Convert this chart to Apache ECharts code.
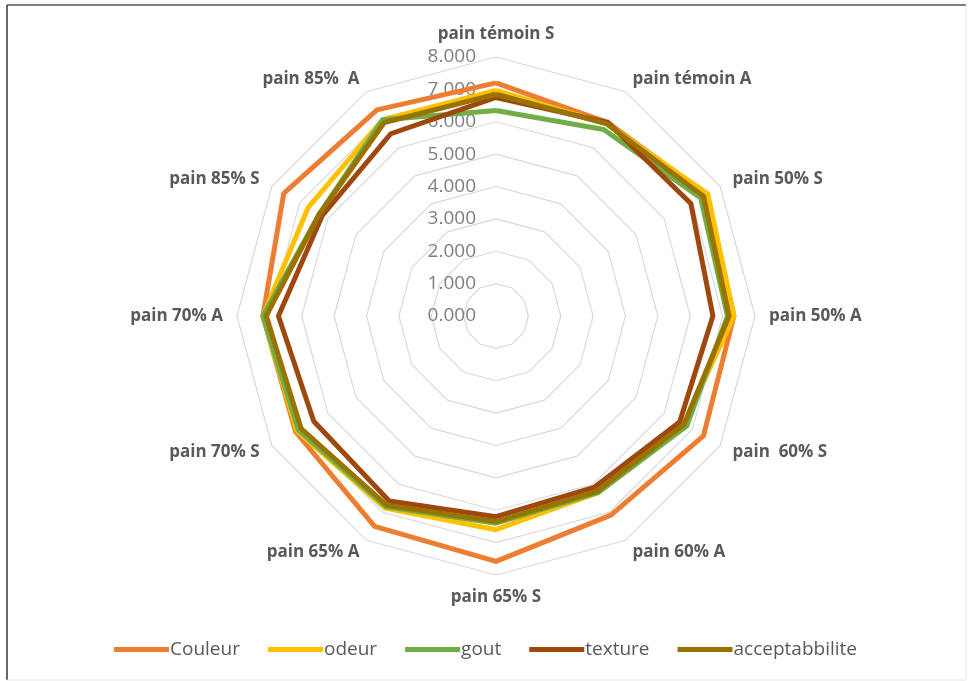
<!DOCTYPE html>
<html>
<head>
<meta charset="utf-8">
<script src="https://cdn.jsdelivr.net/npm/echarts@6/dist/echarts.min.js"></script>
<style>
  html, body { margin: 0; padding: 0; background: #fff; }
  #chart { width: 971px; height: 681px; }
</style>
</head>
<body>
<div id="chart"></div>
<script>
// Bread samples, listed clockwise from the top
const categories = [
  'pain témoin S', 'pain témoin A', 'pain 50% S', 'pain 50% A',
  'pain  60% S', 'pain 60% A', 'pain 65% S', 'pain 65% A',
  'pain 70% S', 'pain 70% A', 'pain 85% S', 'pain 85%  A'
];

// Mean sensory scores per sample
const couleur        = [7.20, 6.90, 7.50, 7.35, 7.40, 7.10, 7.58, 7.50, 7.15, 7.20, 7.57, 7.35];
const odeur          = [6.97, 6.85, 7.55, 7.35, 6.70, 6.30, 6.60, 6.85, 7.10, 7.20, 6.70, 7.00];
const gout           = [6.35, 6.65, 7.30, 7.15, 6.80, 6.30, 6.40, 6.80, 7.05, 7.20, 6.30, 7.00];
const texture        = [6.75, 6.90, 6.95, 6.70, 6.55, 6.10, 6.20, 6.60, 6.50, 6.72, 6.20, 6.50];
const acceptabbilite = [6.85, 6.85, 7.40, 7.20, 6.70, 6.25, 6.35, 6.75, 6.95, 7.10, 6.30, 6.90];

const seriesNames  = ['Couleur', 'odeur', 'gout', 'texture', 'acceptabbilite'];
const seriesValues = [couleur, odeur, gout, texture, acceptabbilite];
const seriesColors = ['#ED7D31', '#FFC000', '#70AD47', '#9E480E', '#997300'];

// Value axis scale
const axisMin = 0;
const axisMax = 8;
const axisStep = 1;

// ECharts lays radar indicators out counter-clockwise, so walk the
// categories as 0, n-1, n-2, ... to get them clockwise on screen.
const order = categories.map((_, i) => (i === 0 ? 0 : categories.length - i));

const indicator = order.map((idx, k) => {
  const ind = { name: categories[idx], min: axisMin, max: axisMax };
  if (k === 0) {
    // value labels only along the top axis
    ind.axisLabel = {
      show: true,
      formatter: v => Number(v).toFixed(3),
      color: '#7F7F7F',
      fontFamily: 'Open Sans',
      fontSize: 19,
      margin: 20
    };
  }
  return ind;
});

const chart = echarts.init(document.getElementById('chart'), null, { renderer: 'canvas' });

chart.setOption({
  backgroundColor: '#ffffff',
  animation: false,
  color: seriesColors,
  graphic: [
    { type: 'line', shape: { x1: 7, y1: 5, x2: 966, y2: 5 }, style: { stroke: '#555', lineWidth: 1.5 } },
    { type: 'line', shape: { x1: 7, y1: 5, x2: 7, y2: 680 }, style: { stroke: '#333', lineWidth: 1.5 } },
    { type: 'line', shape: { x1: 966, y1: 5, x2: 966, y2: 680 }, style: { stroke: '#e6e6e6', lineWidth: 1 } },
    { type: 'line', shape: { x1: 7, y1: 680, x2: 966, y2: 680 }, style: { stroke: '#e6e6e6', lineWidth: 1 } }
  ],
  legend: {
    data: seriesNames,
    top: 635,
    left: 'center',
    icon: 'rect',
    itemWidth: 55,
    itemHeight: 5,
    itemGap: 28,
    textStyle: { color: '#595959', fontFamily: 'Open Sans', fontSize: 19, padding: [0, 0, 0, -4] }
  },
  radar: {
    center: [496, 316],
    radius: 259,
    shape: 'polygon',
    splitNumber: (axisMax - axisMin) / axisStep,
    indicator: indicator,
    axisName: {
      color: '#595959',
      fontFamily: 'Open Sans',
      fontWeight: 'bold',
      fontSize: 17
    },
    nameGap: 14,
    axisLine: { show: false },
    axisTick: { show: false },
    axisLabel: { show: false },
    splitArea: { show: false },
    splitLine: { lineStyle: { color: '#D9D9D9', width: 1.2 } }
  },
  series: [{
    type: 'radar',
    symbol: 'none',
    data: seriesNames.map((name, s) => ({
      name: name,
      value: order.map(idx => seriesValues[s][idx]),
      lineStyle: { color: seriesColors[s], width: 5, join: 'round' },
      itemStyle: { color: seriesColors[s] }
    }))
  }]
});
</script>
</body>
</html>
